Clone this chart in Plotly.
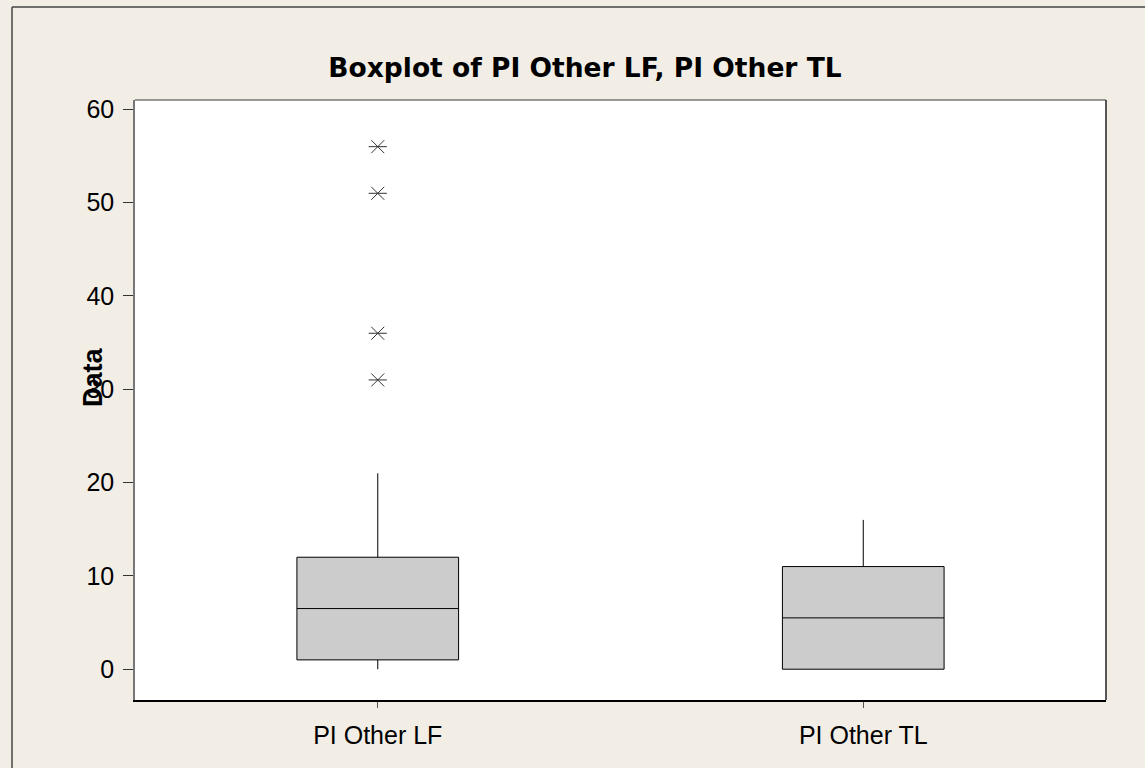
import plotly.graph_objects as go

categories = ["PI Other LF", "PI Other TL"]
q1 = [1, 0]
median = [6.5, 5.5]
q3 = [12, 11]
lower_fence = [0, 0]
upper_fence = [21, 16]
outlier_cat = ["PI Other LF", "PI Other LF", "PI Other LF", "PI Other LF"]
outlier_val = [56, 51, 36, 31]
y_ticks = [0, 10, 20, 30, 40, 50, 60]

W, H = 1145, 768
L, R, T, B = 135, 1106, 100, 700

fig = go.Figure()
fig.add_trace(go.Box(
    x=categories, q1=q1, median=median, q3=q3,
    lowerfence=lower_fence, upperfence=upper_fence,
    fillcolor="#CCCCCC", line=dict(color="black", width=1),
    width=0.333, whiskerwidth=0, boxpoints=False, showlegend=False, hoverinfo="skip",
))
for sym in ["x-thin-open", "line-ew-open"]:
    fig.add_trace(go.Scatter(
        x=outlier_cat, y=outlier_val, mode="markers",
        marker=dict(symbol=sym, size=13, color="#333333", line=dict(color="#333333", width=1)),
        showlegend=False, hoverinfo="skip",
    ))

tick_font = "Liberation Sans"

def px_x(px):
    return (px - L) / (R - L)

def px_y(py):
    return (B - py) / (B - T)

fig.update_layout(
    width=W, height=H,
    margin=dict(l=L, r=W - R, t=T, b=H - B, pad=0),
    paper_bgcolor="#F2EEE6",
    plot_bgcolor="white",
    font=dict(family=tick_font, size=25, color="black"),
    title=dict(text="<b>Boxplot of PI Other LF, PI Other TL</b>",
               x=585 / W, xanchor="center", y=1 - 68 / H, yanchor="middle",
               font=dict(family="DejaVu Sans", size=26.5, color="black")),
    xaxis=dict(
        type="category", range=[-0.5, 1.5],
        showline=True, linecolor="black", linewidth=1.5,
        ticks="outside", ticklen=6, tickcolor="#555555", tickwidth=1,
        showgrid=False, zeroline=False, ticklabelstandoff=6,
    ),
    yaxis=dict(
        range=[-3.3, 61.0], tickvals=y_ticks,
        showline=True, linecolor="#777777", linewidth=1.5,
        ticks="outside", ticklen=10, tickcolor="#333333", tickwidth=1,
        showgrid=False, zeroline=False, ticklabelstandoff=4,
    ),
    shapes=[
        dict(type="line", xref="paper", yref="paper", x0=0, x1=1, y0=1, y1=1,
             line=dict(color="#777777", width=1.5)),
        dict(type="line", xref="paper", yref="paper", x0=1, x1=1, y0=0, y1=1,
             line=dict(color="#222222", width=1.5)),
        dict(type="line", xref="paper", yref="paper", x0=px_x(12), x1=px_x(W + 5),
             y0=px_y(7), y1=px_y(7), line=dict(color="#444444", width=1.5)),
        dict(type="line", xref="paper", yref="paper", x0=px_x(12), x1=px_x(12),
             y0=px_y(7), y1=px_y(H + 5), line=dict(color="#444444", width=1.5)),
    ],
    annotations=[
        dict(text="<b>Data</b>", textangle=-90, xref="paper", yref="paper",
             x=px_x(93), y=px_y(377), xanchor="center", yanchor="middle",
             showarrow=False, font=dict(family="Liberation Sans", size=27, color="black")),
    ],
)

fig.write_html("out.html", config={"displayModeBar": False},
               post_script="document.body.style.margin='0';")
